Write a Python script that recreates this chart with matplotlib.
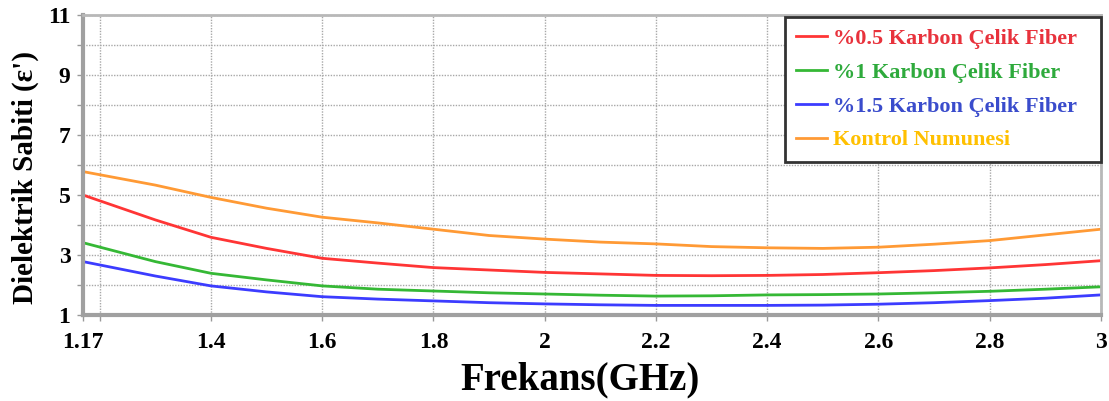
import matplotlib
matplotlib.use("Agg")
import matplotlib.pyplot as plt
from matplotlib.ticker import FixedLocator

# Data
freq = [1.17, 1.3, 1.4, 1.5, 1.6, 1.7, 1.8, 1.9, 2.0, 2.1, 2.2, 2.3, 2.4, 2.5, 2.6, 2.7, 2.8, 2.9, 3.0]
red_05 = [5.00, 4.17, 3.59, 3.22, 2.89, 2.73, 2.58, 2.50, 2.42, 2.37, 2.32, 2.31, 2.32, 2.35, 2.41, 2.48, 2.57, 2.68, 2.81]
green_1 = [3.41, 2.78, 2.39, 2.17, 1.97, 1.86, 1.80, 1.74, 1.70, 1.66, 1.63, 1.64, 1.67, 1.68, 1.70, 1.74, 1.79, 1.86, 1.94]
blue_15 = [2.78, 2.30, 1.97, 1.77, 1.61, 1.53, 1.47, 1.41, 1.37, 1.34, 1.32, 1.32, 1.32, 1.33, 1.36, 1.41, 1.48, 1.56, 1.67]
control = [5.78, 5.33, 4.92, 4.56, 4.26, 4.07, 3.86, 3.65, 3.53, 3.43, 3.37, 3.28, 3.24, 3.22, 3.26, 3.36, 3.48, 3.67, 3.86]

labels = ["%0.5 Karbon Çelik Fiber", "%1 Karbon Çelik Fiber",
          "%1.5 Karbon Çelik Fiber", "Kontrol Numunesi"]
line_colors = ["#ff3535", "#35b835", "#3c3cff", "#ff9a35"]
text_colors = ["#e8323c", "#2eaa3c", "#3a4ccc", "#ffc000"]

xticks = [1.17, 1.4, 1.6, 1.8, 2.0, 2.2, 2.4, 2.6, 2.8, 3.0]
xticklabels = ["1.17", "1.4", "1.6", "1.8", "2", "2.2", "2.4", "2.6", "2.8", "3"]
yticks = [1, 3, 5, 7, 9, 11]

plt.rcParams['font.family'] = ['Liberation Serif', 'DejaVu Serif']

fig = plt.figure(figsize=(11.09, 4.01), dpi=100)
ax = fig.add_axes([83/1109, 86/401, (1101-83)/1109, (315-15)/401])

for ys, c, lab in zip([red_05, green_1, blue_15, control], line_colors, labels):
    ax.plot(freq, ys, color=c, lw=2.0, label=lab)

ax.set_xlim(1.17, 3.0)
ax.set_ylim(1, 11)
ax.set_xticks(xticks)
ax.set_xticklabels(xticklabels)
ax.xaxis.set_minor_locator(FixedLocator([1.2]))
ax.set_yticks(yticks)
ax.yaxis.set_minor_locator(FixedLocator([2, 4, 6, 8, 10]))

ax.grid(True, which='both', color='#a8a8a8', linestyle=(0, (1, 1)), lw=1.0)
ax.tick_params(axis='both', which='both', length=4, width=1, color='#999999',
               labelsize=17)
ax.tick_params(axis='x', pad=8)
ax.tick_params(axis='y', pad=5)
for lab in ax.get_xticklabels() + ax.get_yticklabels():
    lab.set_fontweight('bold')

for side in ['left', 'bottom']:
    ax.spines[side].set_color('#a0a0a0')
    ax.spines[side].set_linewidth(3)
for side in ['top', 'right']:
    ax.spines[side].set_color('#b8b8b8')
    ax.spines[side].set_linewidth(2)

ax.set_xlabel("Frekans(GHz)", fontsize=28, fontweight='bold')
ax.xaxis.set_label_coords((580 - 83) / (1101 - 83), -(380 - 315) / 300)
ax.set_ylabel("Dielektrik Sabiti (ε')", fontsize=21, fontweight='bold')
ax.yaxis.set_label_coords(-(83 - 25) / (1101 - 83), (315 - 178) / 300)
ax.xaxis.label.set_va('center')
ax.yaxis.label.set_va('center')

lx0 = (785 - 83) / (1101 - 83)
leg = ax.legend(loc='upper left', bbox_to_anchor=(lx0, 0.5, 1.0 - lx0, 0.993 - 0.5),
                mode='expand', borderaxespad=0,
                frameon=True, fancybox=False, edgecolor='#333333',
                handlelength=1.4, handletextpad=0.25, labelspacing=0.6,
                borderpad=0.5,
                prop={'weight': 'bold', 'size': 16}, labelcolor=text_colors)
leg.get_frame().set_linewidth(2)
leg.get_frame().set_alpha(1)

fig.savefig("out.png", dpi=100)
